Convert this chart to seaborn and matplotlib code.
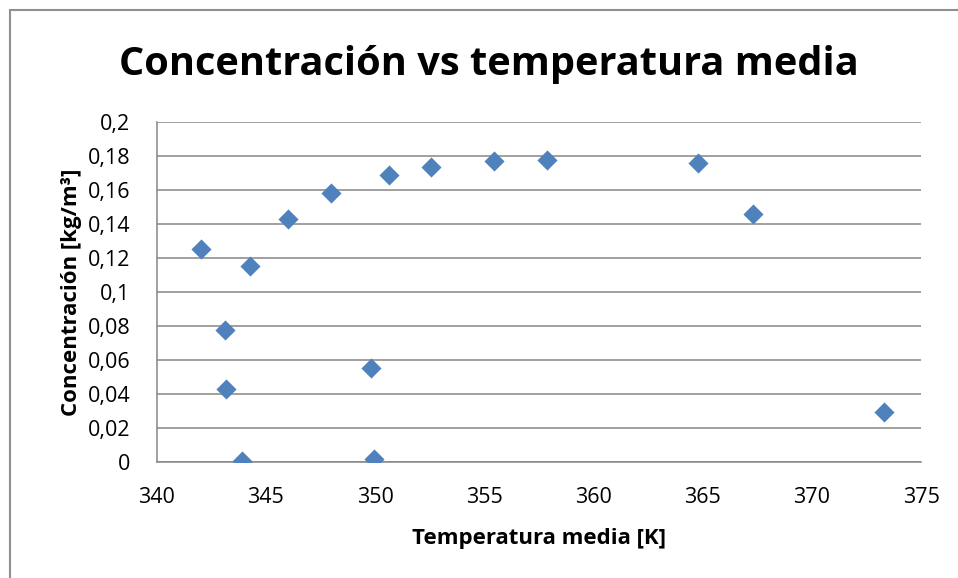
import matplotlib
matplotlib.use("Agg")
import matplotlib.pyplot as plt
from matplotlib.patches import Rectangle
from matplotlib.ticker import FuncFormatter, MultipleLocator
import seaborn as sns
import pandas as pd

# Mean temperature [K] and concentration [kg/m3] of each measurement
temperatura = [342.04, 343.11, 343.16, 343.91, 344.26, 346.01, 348.00, 349.81,
               349.96, 350.62, 352.57, 355.43, 357.87, 364.77, 367.29, 373.31]
concentracion = [0.1255, 0.0776, 0.0431, 0.0009, 0.1155, 0.1433, 0.1584, 0.0553,
                 0.0021, 0.1692, 0.1737, 0.1771, 0.1776, 0.1759, 0.1459, 0.0296]

titulo = "Concentración vs temperatura media"
etiqueta_x = "Temperatura media [K]"
etiqueta_y = "Concentración [kg/m³]"

df = pd.DataFrame({"T": temperatura, "C": concentracion})

sns.set_theme(style="white")
plt.rcParams["font.family"] = ["Open Sans", "DejaVu Sans"]

W, H = 958, 578
fig = plt.figure(figsize=(W / 100, H / 100), dpi=100)
fig.patch.set_facecolor("white")

# outer chart frame
fig.patches.append(Rectangle((10 / W, -0.05), 1.1, 1 - 10 / H + 0.05,
                             transform=fig.transFigure, fill=False,
                             edgecolor="#8f8f8f", linewidth=1.5))

left, right, top, bottom = 156.7, 921.0, 122.3, 462.3
ax = fig.add_axes([left / W, 1 - bottom / H, (right - left) / W, (bottom - top) / H])

sns.scatterplot(data=df, x="T", y="C", marker="D", s=105, color="#4F81BD",
                linewidth=0, ax=ax, zorder=3)

ax.set_xlim(340, 375)
ax.set_ylim(0, 0.2)
ax.xaxis.set_major_locator(MultipleLocator(5))
ax.yaxis.set_major_locator(MultipleLocator(0.02))

coma = FuncFormatter(lambda v, p: "{:g}".format(round(v, 2)).replace(".", ","))
ax.xaxis.set_major_formatter(FuncFormatter(lambda v, p: "{:g}".format(v)))
ax.yaxis.set_major_formatter(coma)

ax.grid(axis="y", color="#868686", linewidth=1.1)
ax.grid(axis="x", visible=False)
for s in ["top", "right"]:
    ax.spines[s].set_visible(False)
for s in ["left", "bottom"]:
    ax.spines[s].set_color("#868686")
    ax.spines[s].set_linewidth(1.1)
ax.tick_params(axis="both", length=0, labelsize=15.5, colors="black")
ax.tick_params(axis="x", pad=18)
ax.tick_params(axis="y", pad=19)

ax.set_xlabel(etiqueta_x, fontsize=16, fontweight="bold", color="black", labelpad=14)
ax.set_ylabel(etiqueta_y, fontsize=16, fontweight="bold", color="black", labelpad=4)

fig.text(489 / W, 1 - 64 / H, titulo, ha="center", va="center",
         fontsize=28.6, fontweight="bold", color="black")

fig.savefig("out.png", dpi=100)
